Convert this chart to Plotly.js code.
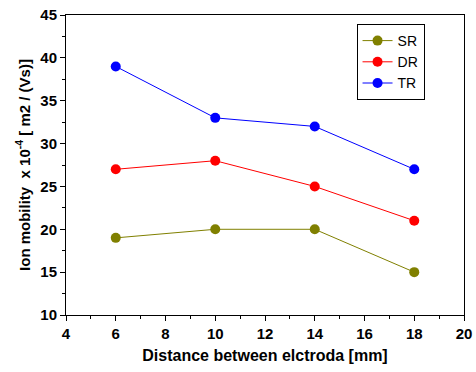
<!DOCTYPE html>
<html><head><meta charset="utf-8">
<script src="https://cdn.plot.ly/plotly-3.0.1.min.js"></script>
<style>html,body{margin:0;padding:0;background:#fff}</style>
</head><body><div id="chart" style="width:476px;height:372px"></div>
<script>
const distance = [6, 10, 14, 18];
const SR = [19, 20, 20, 15];
const DR = [27, 28, 25, 21];
const TR = [39, 33, 32, 27];
const seriesNames = ['SR', 'DR', 'TR'];
const seriesColors = ['#808000', '#ff0000', '#0000ff'];
const seriesValues = [SR, DR, TR];

const traces = seriesValues.map((v, i) => ({
  x: distance, y: v, name: seriesNames[i], type: 'scatter', mode: 'lines+markers',
  line: {color: seriesColors[i], width: 1},
  marker: {color: seriesColors[i], size: 10}
}));

const fam = 'Liberation Sans, Arial, sans-serif';
const tickFont = {family: fam, size: 15, color: '#000', weight: 'bold'};
const layout = {
  width: 476, height: 372,
  margin: {l: 66, r: 12, t: 15, b: 57},
  paper_bgcolor: '#fff', plot_bgcolor: '#fff',
  font: {family: fam, size: 14, color: '#000'},
  showlegend: true,
  legend: {x: 0.73, y: 0.97, xanchor: 'left', yanchor: 'top', bordercolor: '#000', borderwidth: 1,
    font: {family: fam, size: 14, color: '#000'}, bgcolor: '#fff',
    tracegroupgap: 0, itemwidth: 30},
  xaxis: {
    range: [4, 20], dtick: 2, tick0: 4, showgrid: false, zeroline: false,
    showline: true, linecolor: '#000', linewidth: 1, mirror: true,
    ticks: 'outside', ticklen: 5, tickcolor: '#000',
    minor: {dtick: 1, ticks: 'outside', ticklen: 3, tickcolor: '#000'},
    tickfont: tickFont,
    title: {text: 'Distance between elctroda [mm]', font: {family: fam, size: 16, color: '#000', weight: 'bold'}, standoff: 8}
  },
  yaxis: {
    range: [10, 45], dtick: 5, showgrid: false, zeroline: false,
    showline: true, linecolor: '#000', linewidth: 1, mirror: true,
    ticks: 'outside', ticklen: 5, tickcolor: '#000',
    minor: {dtick: 2.5, ticks: 'outside', ticklen: 3, tickcolor: '#000'},
    tickfont: tickFont,
    title: {text: 'Ion mobility  x 10<sup>-4</sup> [ m2 / (Vs)]', font: {family: fam, size: 15, color: '#000', weight: 'bold'}, standoff: 6}
  }
};
Plotly.newPlot('chart', traces, layout, {displayModeBar: false, staticPlot: true});
</script></body></html>
